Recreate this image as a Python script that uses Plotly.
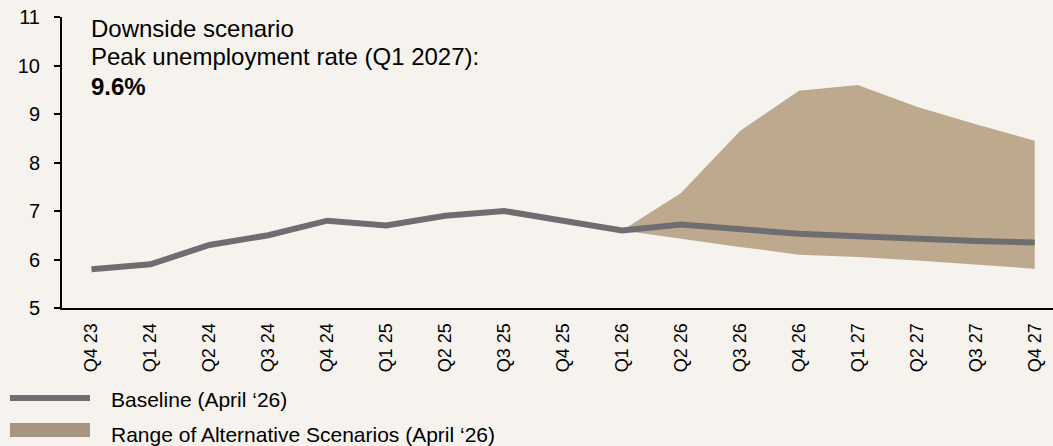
import plotly.graph_objects as go

# Quarterly categories
quarters = ["Q4 23", "Q1 24", "Q2 24", "Q3 24", "Q4 24", "Q1 25", "Q2 25", "Q3 25",
            "Q4 25", "Q1 26", "Q2 26", "Q3 26", "Q4 26", "Q1 27", "Q2 27", "Q3 27", "Q4 27"]

# Baseline unemployment rate (%)
baseline = [5.8, 5.9, 6.3, 6.5, 6.8, 6.7, 6.9, 7.0, 6.8, 6.6,
            6.72, 6.62, 6.53, 6.48, 6.42, 6.38, 6.35]

# Range of alternative scenarios, starting at Q1 26
range_quarters = ["Q1 26", "Q2 26", "Q3 26", "Q4 26", "Q1 27", "Q2 27", "Q3 27", "Q4 27"]
range_upper = [6.6, 7.37, 8.65, 9.48, 9.6, 9.15, 8.79, 8.45]
range_lower = [6.6, 6.43, 6.26, 6.10, 6.05, 5.98, 5.90, 5.81]

y_ticks = [5, 6, 7, 8, 9, 10, 11]

BG = "#F6F3EE"
LINE_COLOR = "#6E6E72"
BAND_COLOR = "#BDA98E"
LEGEND_BAND = "#A69580"
FONT = "Liberation Sans, Arial, sans-serif"

W, H = 1053, 446
M_L, M_R, M_T, M_B = 62, 0, 17, 138
PW, PH = W - M_L - M_R, H - M_T - M_B


def px_x(px):
    return (px - M_L) / PW


def px_y(py):
    return (H - M_B - py) / PH


fig = go.Figure()

# Scenario range as a closed polygon (upper edge, then lower edge reversed)
fig.add_trace(go.Scatter(
    x=range_quarters + range_quarters[::-1],
    y=range_upper + range_lower[::-1],
    fill="toself", fillcolor=BAND_COLOR,
    line=dict(width=0, color=BAND_COLOR),
    mode="lines", hoverinfo="skip", showlegend=False,
))

fig.add_trace(go.Scatter(
    x=quarters, y=baseline, mode="lines",
    line=dict(color=LINE_COLOR, width=6),
    showlegend=False,
))

peak_val = max(range_upper)
peak_q = range_quarters[range_upper.index(peak_val)]
peak_label = f"Q{peak_q[1]} 20{peak_q[-2:]}"

# Callout text, one annotation per line
callout_lines = [
    ("Downside scenario", 28.5),
    (f"Peak unemployment rate ({peak_label}):", 57),
    (f"<b>{peak_val:.1f}%</b>", 86),
]
for text, cy in callout_lines:
    fig.add_annotation(
        xref="paper", yref="paper", x=px_x(89), y=px_y(cy),
        xanchor="left", yanchor="middle", align="left", showarrow=False,
        text=text, font=dict(family=FONT, size=24, color="#000000"),
    )

# Legend drawn below the axis
shapes = [
    dict(type="line", xref="paper", yref="paper",
         x0=px_x(10), x1=px_x(90), y0=px_y(398), y1=px_y(398),
         line=dict(color=LINE_COLOR, width=6)),
    dict(type="rect", xref="paper", yref="paper",
         x0=px_x(10), x1=px_x(90), y0=px_y(423), y1=px_y(437),
         fillcolor=LEGEND_BAND, line=dict(width=0)),
]
for label, cy in [("Baseline (April \u201826)", 399), ("Range of Alternative Scenarios (April \u201826)", 434)]:
    fig.add_annotation(
        xref="paper", yref="paper", x=px_x(109), y=px_y(cy),
        xanchor="left", yanchor="middle", showarrow=False, text=label,
        font=dict(family=FONT, size=21, color="#000000"),
    )

fig.update_layout(
    width=W, height=H,
    margin=dict(l=M_L, r=M_R, t=M_T, b=M_B),
    paper_bgcolor=BG, plot_bgcolor=BG,
    shapes=shapes,
    xaxis=dict(
        type="category", categoryorder="array", categoryarray=quarters,
        range=[-0.5, 16.31], tickangle=-90,
        showgrid=False, zeroline=False,
        showline=True, linecolor="#000000", linewidth=2,
        ticks="outside", ticklen=6, tickcolor="rgba(0,0,0,0)",
        tickfont=dict(family=FONT, size=18, color="#000000"),
    ),
    yaxis=dict(
        range=[5, 11], tickvals=y_ticks,
        showgrid=False, zeroline=False,
        showline=True, linecolor="#000000", linewidth=2,
        ticks="outside", ticklen=6, tickwidth=2, tickcolor="#000000",
        ticklabelstandoff=10,
        tickfont=dict(family=FONT, size=20, color="#000000"),
    ),
)

fig.write_html("out.html")
